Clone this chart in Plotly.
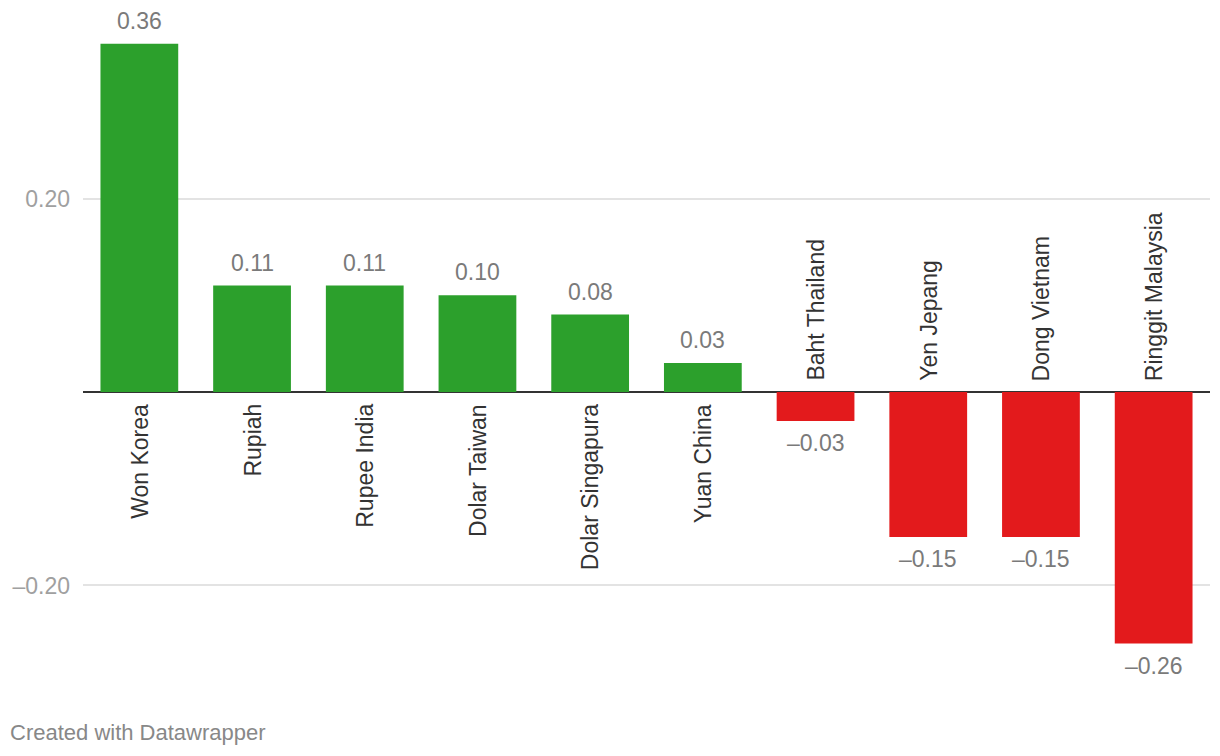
import plotly.graph_objects as go

categories = ["Won Korea", "Rupiah", "Rupee India", "Dolar Taiwan", "Dolar Singapura",
              "Yuan China", "Baht Thailand", "Yen Jepang", "Dong Vietnam", "Ringgit Malaysia"]
values = [0.36, 0.11, 0.11, 0.10, 0.08, 0.03, -0.03, -0.15, -0.15, -0.26]
value_labels = ["0.36", "0.11", "0.11", "0.10", "0.08", "0.03", "–0.03", "–0.15", "–0.15", "–0.26"]
tick_vals = [-0.2, 0.2]
tick_text = ["–0.20", "0.20"]

GREEN = "#2ca02c"
RED = "#e31a1c"
FONT = "Liberation Sans, Arial, Helvetica, sans-serif"

colors = [GREEN if v >= 0 else RED for v in values]

fig = go.Figure()
fig.add_trace(go.Bar(x=categories, y=values, marker=dict(color=colors, line=dict(width=0)),
                     hoverinfo="skip"))

annotations = []
for c, v, lab in zip(categories, values, value_labels):
    pos = v >= 0
    annotations.append(dict(
        x=c, y=v, xref="x", yref="y", text=lab, showarrow=False,
        yanchor="bottom" if pos else "top", yshift=8 if pos else -7,
        font=dict(family=FONT, size=23, color="#7a7a7a")))
    annotations.append(dict(
        x=c, y=0, xref="x", yref="y", text=c, showarrow=False, textangle=-90,
        yanchor="top" if pos else "bottom", yshift=-10 if pos else 9,
        font=dict(family=FONT, size=23, color="#333333")))

annotations.append(dict(
    x=0, y=-0.08, xref="paper", yref="paper", xanchor="left", yanchor="middle",
    xshift=-75, text="Created with Datawrapper", showarrow=False,
    font=dict(family=FONT, size=22, color="#888888")))

fig.update_layout(
    width=1220, height=756, autosize=False,
    margin=dict(l=75, r=18, t=22, b=84),
    paper_bgcolor="white", plot_bgcolor="white",
    bargap=0.31, showlegend=False,
    annotations=annotations,
    xaxis=dict(showticklabels=False, showgrid=False, zeroline=False, showline=False,
               ticks="", fixedrange=True, automargin=False),
    yaxis=dict(range=[-0.2977, 0.3742], tickvals=tick_vals, ticktext=tick_text,
               showgrid=True, gridcolor="#e3e3e3", gridwidth=1.5,
               zeroline=True, zerolinecolor="#333333", zerolinewidth=2,
               showline=False, ticks="", ticklabelstandoff=12, automargin=False,
               tickfont=dict(family=FONT, size=23, color="#a0a0a0"), fixedrange=True),
)

fig.write_html("out.html")
